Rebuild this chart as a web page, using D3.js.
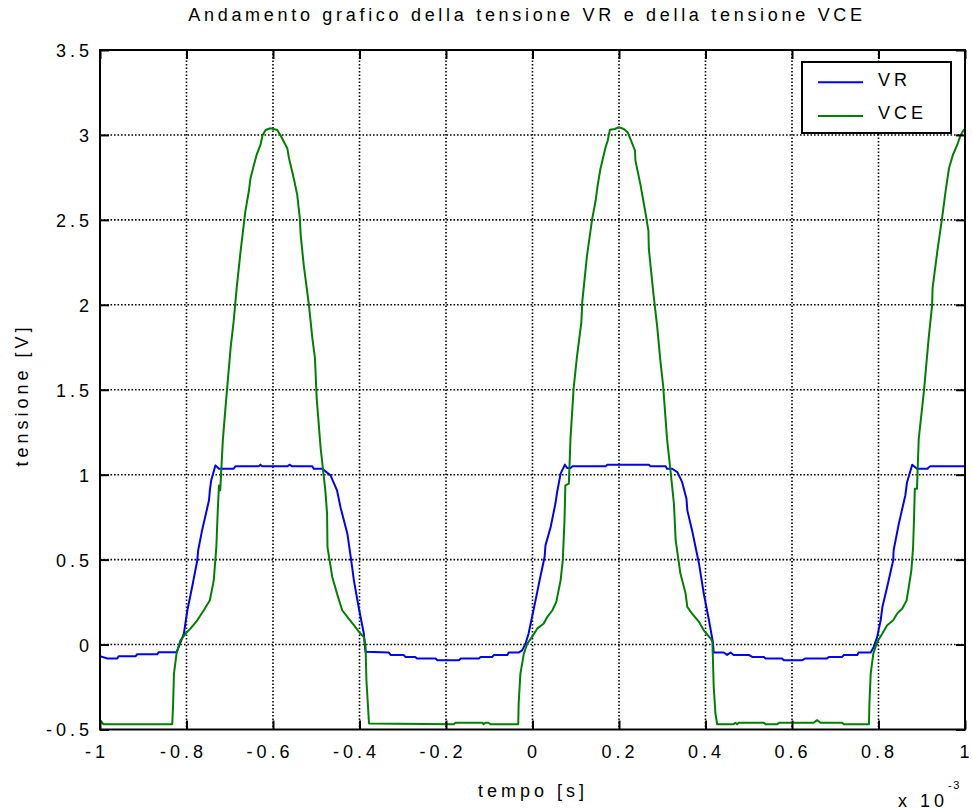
<!DOCTYPE html>
<html>
<head>
<meta charset="utf-8">
<script src="https://cdn.jsdelivr.net/npm/d3@7"></script>
<style>
  html, body { margin: 0; padding: 0; background: #fff; }
  svg { display: block; }
  text { font-family: "Liberation Sans", Arial, Helvetica, sans-serif; fill: #000; }
</style>
</head>
<body>
<svg id="chart" width="972" height="812"></svg>
<script>
// Time axis in ms (labelled "x 10^-3" s), voltages in V.
const xTicks = [-1, -0.8, -0.6, -0.4, -0.2, 0, 0.2, 0.4, 0.6, 0.8, 1];
const yTicks = [-0.5, 0, 0.5, 1, 1.5, 2, 2.5, 3, 3.5];
const xTickLabels = ["-1", "-0.8", "-0.6", "-0.4", "-0.2", "0", "0.2", "0.4", "0.6", "0.8", "1"];
const yTickLabels = ["-0.5", "0", "0.5", "1", "1.5", "2", "2.5", "3", "3.5"];
const seriesNames = ["VR", "VCE"];
const seriesColors = ["#0000ff", "#008000"];

// VR: voltage across the resistor
const vrTime = [
  -1.000, -0.983, -0.960, -0.957, -0.918, -0.914, -0.868, -0.864, -0.823, -0.818,
  -0.806, -0.798, -0.787, -0.775, -0.773, -0.764, -0.748, -0.746, -0.743, -0.733,
  -0.725, -0.691, -0.687, -0.633, -0.629, -0.625, -0.567, -0.561, -0.556, -0.509,
  -0.506, -0.486, -0.467, -0.452, -0.444, -0.428, -0.417, -0.413, -0.402, -0.390,
  -0.386, -0.332, -0.328, -0.298, -0.294, -0.271, -0.267, -0.224, -0.220, -0.170,
  -0.166, -0.124, -0.120, -0.093, -0.089, -0.058, -0.055, -0.032, -0.024, -0.016,
  -0.009, -0.001, 0.007, 0.018, 0.028, 0.030, 0.042, 0.053, 0.057, 0.065,
  0.075, 0.080, 0.088, 0.092, 0.169, 0.173, 0.269, 0.273, 0.308, 0.311,
  0.323, 0.335, 0.346, 0.356, 0.358, 0.369, 0.385, 0.396, 0.408, 0.417,
  0.419, 0.442, 0.450, 0.458, 0.465, 0.500, 0.508, 0.535, 0.539, 0.577,
  0.581, 0.624, 0.631, 0.681, 0.685, 0.716, 0.720, 0.751, 0.754, 0.782,
  0.789, 0.797, 0.805, 0.809, 0.820, 0.834, 0.835, 0.847, 0.862, 0.866,
  0.878, 0.889, 0.913, 0.919, 1.000
];
const vrVolt = [
  -0.069, -0.082, -0.082, -0.069, -0.069, -0.057, -0.057, -0.045, -0.045, -0.014,
  0.065, 0.202, 0.339, 0.496, 0.555, 0.672, 0.849, 0.908, 0.966, 1.055,
  1.035, 1.035, 1.049, 1.049, 1.059, 1.049, 1.049, 1.059, 1.049, 1.049,
  1.035, 1.035, 0.996, 0.908, 0.809, 0.653, 0.456, 0.378, 0.221, 0.065,
  -0.043, -0.047, -0.061, -0.061, -0.073, -0.073, -0.082, -0.082, -0.092, -0.092,
  -0.082, -0.082, -0.073, -0.073, -0.061, -0.061, -0.047, -0.047, -0.034, 0.006,
  0.065, 0.162, 0.260, 0.398, 0.515, 0.584, 0.692, 0.830, 0.898, 1.006,
  1.059, 1.039, 1.039, 1.049, 1.049, 1.059, 1.059, 1.049, 1.049, 1.035,
  1.035, 1.015, 0.956, 0.859, 0.790, 0.672, 0.476, 0.300, 0.143, 0.015,
  -0.047, -0.047, -0.061, -0.047, -0.061, -0.061, -0.073, -0.073, -0.082, -0.082,
  -0.092, -0.092, -0.082, -0.082, -0.073, -0.073, -0.061, -0.061, -0.047, -0.047,
  -0.014, 0.045, 0.143, 0.221, 0.339, 0.496, 0.555, 0.712, 0.878, 0.956,
  1.059, 1.035, 1.035, 1.049, 1.049
];

// VCE: collector-emitter voltage
const vceTime = [
  -1.000, -0.992, -0.833, -0.831, -0.829, -0.823, -0.814, -0.802, -0.791, -0.775,
  -0.760, -0.746, -0.737, -0.731, -0.728, -0.725, -0.722, -0.720, -0.716, -0.711,
  -0.708, -0.698, -0.691, -0.684, -0.675, -0.664, -0.656, -0.652, -0.644, -0.638,
  -0.629, -0.624, -0.617, -0.606, -0.590, -0.583, -0.567, -0.563, -0.552, -0.544,
  -0.538, -0.536, -0.529, -0.517, -0.509, -0.503, -0.499, -0.490, -0.479, -0.475,
  -0.474, -0.463, -0.452, -0.440, -0.425, -0.413, -0.398, -0.390, -0.386, -0.384,
  -0.378, -0.182, -0.178, -0.116, -0.113, -0.109, -0.102, -0.097, -0.033, -0.032,
  -0.028, -0.020, -0.012, -0.001, 0.011, 0.026, 0.034, 0.046, 0.055, 0.065,
  0.070, 0.074, 0.076, 0.084, 0.088, 0.095, 0.103, 0.113, 0.115, 0.126,
  0.138, 0.146, 0.150, 0.157, 0.169, 0.174, 0.179, 0.190, 0.200, 0.211,
  0.220, 0.228, 0.237, 0.238, 0.250, 0.261, 0.268, 0.269, 0.280, 0.288,
  0.296, 0.302, 0.311, 0.319, 0.327, 0.331, 0.342, 0.354, 0.358, 0.369,
  0.385, 0.396, 0.412, 0.416, 0.419, 0.423, 0.427, 0.465, 0.469, 0.473,
  0.477, 0.535, 0.539, 0.566, 0.570, 0.650, 0.658, 0.666, 0.716, 0.720,
  0.778, 0.779, 0.782, 0.788, 0.797, 0.809, 0.820, 0.834, 0.843, 0.855,
  0.865, 0.870, 0.876, 0.880, 0.882, 0.884, 0.889, 0.893, 0.905, 0.916,
  0.924, 0.925, 0.936, 0.947, 0.955, 0.963, 0.972, 0.982, 0.990, 0.997,
  1.000
];
const vceVolt = [
  -0.445, -0.469, -0.469, -0.357, -0.171, -0.053, 0.025, 0.065, 0.094, 0.143,
  0.202, 0.261, 0.378, 0.574, 0.771, 0.937, 0.908, 1.006, 1.202, 1.359,
  1.451, 1.746, 1.902, 2.098, 2.314, 2.549, 2.667, 2.745, 2.824, 2.882,
  2.941, 3.000, 3.029, 3.039, 3.029, 3.000, 2.922, 2.863, 2.745, 2.647,
  2.510, 2.412, 2.235, 2.000, 1.804, 1.686, 1.451, 1.160, 0.908, 0.771,
  0.574, 0.398, 0.300, 0.202, 0.153, 0.114, 0.065, 0.045, -0.014, -0.210,
  -0.465, -0.469, -0.460, -0.460, -0.469, -0.460, -0.460, -0.469, -0.469, -0.347,
  -0.171, -0.053, 0.006, 0.045, 0.094, 0.124, 0.162, 0.202, 0.251, 0.378,
  0.496, 0.731, 0.937, 0.947, 1.220, 1.506, 1.700, 1.898, 2.016, 2.290,
  2.506, 2.614, 2.692, 2.800, 2.928, 2.967, 3.031, 3.035, 3.045, 3.035,
  3.016, 2.967, 2.908, 2.849, 2.702, 2.545, 2.437, 2.329, 2.055, 1.879,
  1.663, 1.525, 1.212, 1.025, 0.829, 0.613, 0.418, 0.300, 0.221, 0.182,
  0.133, 0.084, 0.035, 0.015, -0.249, -0.406, -0.469, -0.469, -0.460, -0.469,
  -0.460, -0.460, -0.469, -0.469, -0.460, -0.460, -0.445, -0.460, -0.460, -0.469,
  -0.469, -0.347, -0.171, -0.053, 0.015, 0.065, 0.114, 0.143, 0.182, 0.212,
  0.260, 0.339, 0.437, 0.574, 0.731, 0.917, 0.917, 1.210, 1.491, 1.804,
  2.000, 2.098, 2.314, 2.510, 2.667, 2.804, 2.882, 2.941, 3.000, 3.029,
  3.035
];

(function draw() {
  const svg = d3.select("#chart");
  const pLeft = 100, pRight = 965, pTop = 50, pBottom = 729.5;
  const FONT = 18, LS = 4;

  const x = d3.scaleLinear().domain([-1, 1]).range([pLeft, pRight]);
  const y = d3.scaleLinear().domain([-0.5, 3.5]).range([pBottom, pTop]);

  // dotted grid
  const grid = svg.append("g").attr("stroke", "#000").attr("stroke-width", 1.6)
    .attr("stroke-dasharray", "1.6,1.9").attr("fill", "none");
  xTicks.slice(1, -1).forEach(t => {
    grid.append("line").attr("x1", x(t)).attr("x2", x(t)).attr("y1", pTop).attr("y2", pBottom);
  });
  yTicks.slice(1, -1).forEach(v => {
    grid.append("line").attr("x1", pLeft).attr("x2", pRight).attr("y1", y(v)).attr("y2", y(v));
  });

  // data lines
  svg.append("clipPath").attr("id", "plotClip")
    .append("rect").attr("x", pLeft).attr("y", pTop).attr("width", pRight - pLeft).attr("height", pBottom - pTop);

  const line = d3.line().x(d => x(d[0])).y(d => y(d[1]));
  const vrData = vrTime.map((t, i) => [t, vrVolt[i]]);
  const vceData = vceTime.map((t, i) => [t, vceVolt[i]]);
  const plot = svg.append("g").attr("clip-path", "url(#plotClip)");
  plot.append("path").datum(vrData).attr("d", line)
    .attr("fill", "none").attr("stroke", seriesColors[0]).attr("stroke-width", 2).attr("stroke-linejoin", "round");
  plot.append("path").datum(vceData).attr("d", line)
    .attr("fill", "none").attr("stroke", seriesColors[1]).attr("stroke-width", 2).attr("stroke-linejoin", "round");

  // axes (ticks pointing inward on all four sides)
  const TL = 9;
  const fmtX = (d, i) => xTickLabels[i];
  const fmtY = (d, i) => yTickLabels[i];
  const axB = svg.append("g").attr("transform", `translate(0,${pBottom})`)
    .call(d3.axisBottom(x).tickValues(xTicks).tickSizeInner(-TL).tickSizeOuter(0).tickFormat(fmtX));
  const axT = svg.append("g").attr("transform", `translate(0,${pTop})`)
    .call(d3.axisTop(x).tickValues(xTicks).tickSizeInner(-TL).tickSizeOuter(0).tickFormat(""));
  const axL = svg.append("g").attr("transform", `translate(${pLeft},0)`)
    .call(d3.axisLeft(y).tickValues(yTicks).tickSizeInner(-TL).tickSizeOuter(0).tickFormat(fmtY));
  const axR = svg.append("g").attr("transform", `translate(${pRight},0)`)
    .call(d3.axisRight(y).tickValues(yTicks).tickSizeInner(-TL).tickSizeOuter(0).tickFormat(""));
  [axB, axT, axL, axR].forEach(a => {
    a.select(".domain").remove();
    a.selectAll(".tick line").attr("stroke", "#000").attr("stroke-width", 2);
    a.selectAll("text").attr("font-size", FONT).attr("letter-spacing", LS)
      .attr("font-family", "'Liberation Sans', Arial, sans-serif").attr("fill", "#000");
  });
  axB.selectAll(".tick text")
    .attr("dy", null).attr("y", 28)
    .attr("letter-spacing", (d, i) => xTickLabels[i].length > 1 ? LS : 0)
    .attr("dx", (d, i) => xTickLabels[i].length === 1 ? -1 : (d < 0 ? -3.5 : 0.5));
  axL.selectAll(".tick text").attr("x", -11 + LS).attr("dy", "0.36em");

  // plot frame
  svg.append("rect").attr("x", pLeft).attr("y", pTop).attr("width", pRight - pLeft).attr("height", pBottom - pTop)
    .attr("fill", "none").attr("stroke", "#000").attr("stroke-width", 2);

  // title and axis labels
  svg.append("text").attr("x", 527).attr("y", 21).attr("text-anchor", "middle")
    .attr("font-size", FONT).attr("letter-spacing", 3.7)
    .text("Andamento grafico della tensione VR e della tensione VCE");
  svg.append("text").attr("x", 533).attr("y", 797).attr("text-anchor", "middle")
    .attr("font-size", FONT).attr("letter-spacing", LS).text("tempo [s]");
  svg.append("text").attr("transform", "translate(28,395) rotate(-90)").attr("text-anchor", "middle")
    .attr("font-size", FONT).attr("letter-spacing", LS).text("tensione [V]");
  svg.append("text").attr("x", 898).attr("y", 807)
    .attr("font-size", FONT).attr("letter-spacing", LS).text("x 10");
  svg.append("text").attr("x", 948).attr("y", 789).attr("font-size", 11).attr("letter-spacing", 1.5).text("-3");

  // legend
  const lg = svg.append("g");
  lg.append("rect").attr("x", 802).attr("y", 62).attr("width", 149).attr("height", 71)
    .attr("fill", "#fff").attr("stroke", "#000").attr("stroke-width", 2);
  const lgRows = [82.3, 116];
  const lgBase = [86, 118.5];
  seriesNames.forEach((name, i) => {
    lg.append("line").attr("x1", 818).attr("x2", 863).attr("y1", lgRows[i]).attr("y2", lgRows[i])
      .attr("stroke", seriesColors[i]).attr("stroke-width", 2);
    lg.append("text").attr("x", 878).attr("y", lgBase[i]).attr("font-size", FONT).attr("letter-spacing", LS).text(name);
  });
})();
</script>
</body>
</html>
